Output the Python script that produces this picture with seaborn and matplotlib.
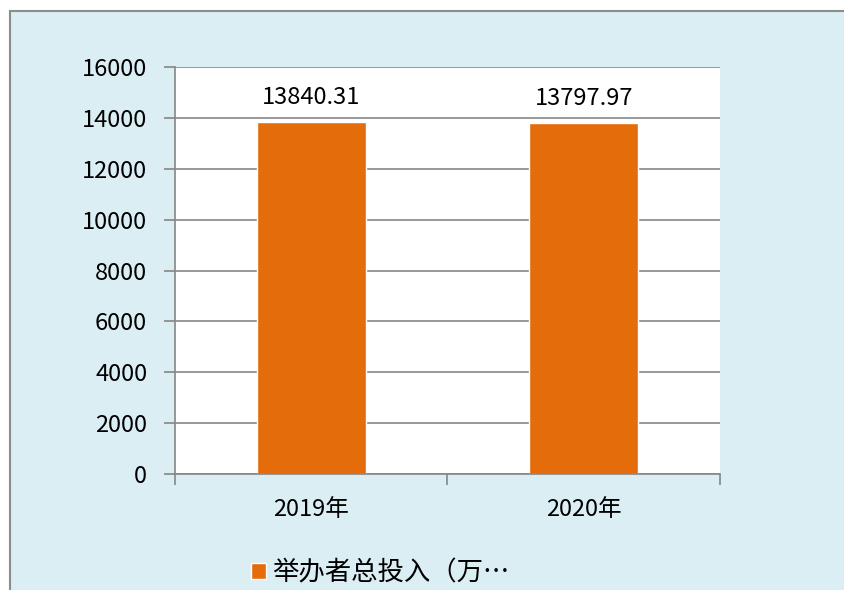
import pandas as pd
import seaborn as sns
import matplotlib.pyplot as plt
from matplotlib.patches import Rectangle

years = ["2019年", "2020年"]
investment = [13840.31, 13797.97]
series_name = "举办者总投入（万…"
y_ticks = [0, 2000, 4000, 6000, 8000, 10000, 12000, 14000, 16000]


def plot_investment(out="out.png"):
    df = pd.DataFrame({"year": years, "value": investment})

    sns.set_theme(style="white")
    plt.rcParams["font.family"] = ["Noto Sans CJK SC", "DejaVu Sans"]
    plt.rcParams["text.color"] = "black"
    plt.rcParams["xtick.color"] = "black"
    plt.rcParams["ytick.color"] = "black"

    fig = plt.figure(figsize=(8.45, 5.9), dpi=100)
    fig.patch.set_facecolor("white")
    fig.patches.append(Rectangle((10 / 845, -0.1), 1.0, 1 - 11 / 590 + 0.1,
                                 transform=fig.transFigure, facecolor="#DBEEF4",
                                 edgecolor="#8C8C8C", linewidth=1.5, zorder=-5))

    ax = fig.add_axes([175 / 845, 1 - 474 / 590, 545 / 845, 407 / 590])
    ax.set_facecolor("white")

    sns.barplot(data=df, x="year", y="value", color="#E46C0A", width=0.4,
                saturation=1, ax=ax, label=series_name)

    ax.set_ylim(0, 16000)
    ax.set_xlim(-0.5, 1.5)
    ax.set_yticks(y_ticks)
    ax.yaxis.grid(True, color="#868686", linewidth=1.2)
    ax.set_axisbelow(True)
    for side in ["top", "right"]:
        ax.spines[side].set_visible(False)
    for side in ["left", "bottom"]:
        ax.spines[side].set_color("#868686")
        ax.spines[side].set_linewidth(1.2)

    ax.tick_params(axis="y", length=8, width=1.2, color="#868686", pad=12,
                   labelsize=17, left=True)
    ax.set_xticks([-0.5, 0.5, 1.5], minor=True)
    ax.tick_params(axis="x", which="minor", length=8, width=1.2,
                   color="#868686", bottom=True)
    ax.tick_params(axis="x", which="major", length=0, pad=17, labelsize=17)
    ax.set_xlabel("")
    ax.set_ylabel("")

    ax.bar_label(ax.containers[0], labels=[f"{v:.2f}" for v in investment],
                 padding=9.5, fontsize=17)

    ax.legend(loc="center left", bbox_to_anchor=(251 / 845, 1 - 573 / 590),
              bbox_transform=fig.transFigure, frameon=False, fontsize=19,
              handlelength=0.55, handleheight=0.55, handletextpad=0.25,
              borderpad=0, borderaxespad=0)

    fig.savefig(out, dpi=100, facecolor=fig.get_facecolor())


if __name__ == "__main__":
    plot_investment()
